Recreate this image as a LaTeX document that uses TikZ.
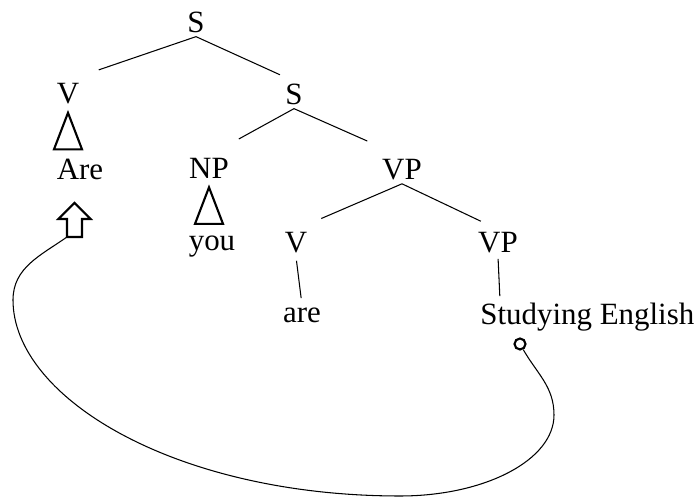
\documentclass[tikz,border=0pt]{standalone}
\usepackage{fontspec}
\setmainfont{Liberation Serif}
\tikzset{
  lbl/.style={anchor=base,inner sep=0.06cm,font=\fontsize{17.6}{21}\selectfont},
  br/.style={line width=0.6pt},
  tri/.style={line width=1.2pt,line join=miter},
  hollow/.style={line width=1.2pt,line join=miter},
  ring/.style={circle,draw,line width=1.2pt,inner sep=0pt,minimum size=0.22cm},
  mv/.style={line width=0.6pt}
}
\newcommand{\roof}[1]{\draw[tri] ([yshift=-0.1cm]#1.south) -- ++(-0.28,-0.73) -- ++(0.56,0) -- cycle;}

\begin{document}
\begin{tikzpicture}
\useasboundingbox (0,0) rectangle (14,9.94);
\node[lbl] (s0) at (3.92,9.28) {S};
\node[lbl] (v1) at (1.36,7.86) {V};
\node[lbl] (s1) at (5.88,7.84) {S};
\node[lbl] (are1) at (1.60,6.34) {Are};
\node[lbl] (np) at (4.18,6.36) {NP};
\node[lbl] (vp1) at (8.04,6.34) {VP};
\node[lbl] (you) at (4.24,4.92) {you};
\node[lbl] (v2) at (5.92,4.88) {V};
\node[lbl] (vp2) at (9.96,4.88) {VP};
\node[lbl] (are2) at (6.04,3.48) {are};
\node[lbl,anchor=base west] (stud) at (9.54,3.44) {Studying English};
\draw[br,shorten >=0.65cm] (s0.south) -- (v1.north);
\draw[br,shorten >=0.31cm] (s0.south) -- (s1.north);
\draw[br,shorten >=0.68cm] (s1.south) -- (np.north);
\draw[br,shorten >=0.76cm] (s1.south) -- (vp1.north);
\draw[br,shorten >=0.55cm] (vp1.south) -- (v2.north);
\draw[br,shorten >=0.38cm] (vp1.south) -- (vp2.north);
\draw[br,shorten <=0.08cm,shorten >=0.14cm] (v2.south) -- (are2.north);
\draw[br,shorten <=0.04cm,shorten >=0.08cm] (vp2.south) -- ([xshift=0.04cm]vp2.south |- stud.north);
\roof{v1} \roof{np}
\coordinate (upfoot) at (1.34,5.20);
\draw[hollow] (upfoot) -- ++(0.3,0) -- ++(0,0.36) -- ++(0.17,0) -- ++(-0.32,0.32) -- ++(-0.32,-0.32) -- ++(0.17,0) -- cycle;
\node[ring] (tail) at (10.40,3.06) {};
\draw[mv] (upfoot) to[out=215,in=90] (0.26,3.94) .. controls +(0,-1.95) and +(-4.5,0) .. (8.0,0.02) .. controls +(1.70,0) and +(0,-0.9) .. (11.08,1.64) to[out=90,in=-60] (tail);
\end{tikzpicture}
\end{document}
